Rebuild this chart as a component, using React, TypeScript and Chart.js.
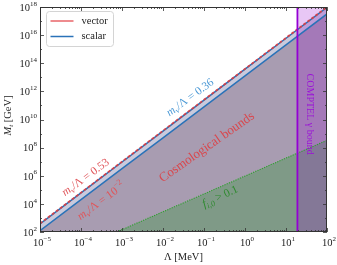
import React, { useEffect, useRef } from "react";
import { Chart, registerables } from "chart.js";

Chart.register(...registerables);

// ---- data ----
const lambdaGrid = [1e-5, 1e-4, 1e-3, 1e-2, 1e-1, 1, 10, 100];
const vectorUpper = [4.0e2, 6.3e4, 1.0e7, 1.6e9, 2.5e11, 4.0e13, 6.3e15, 1.0e18];
const scalarUpper = [3.8e2, 6.0e4, 9.5e6, 1.5e9, 2.4e11, 3.8e13, 6.0e15, 9.5e17];
const scalarLower = [1.26e2, 2.0e4, 3.2e6, 5.0e8, 7.9e10, 1.26e13, 2.0e15, 3.2e17];
const lambdaGreen = [7.4e-4, 1e-2, 1e-1, 1, 10, 100];
const fGreen = [1e2, 2.75e3, 5.1e4, 9.5e5, 1.8e7, 3.3e8];
const comptelLambda = [19, 100];
const comptelTop = [1e18, 1e18];
const seriesNames = ["vector", "scalar"];
const xTickExps = [-5, -4, -3, -2, -1, 0, 1, 2];
const yTickExps = [2, 4, 6, 8, 10, 12, 14, 16, 18];

const X_MIN = 1e-5, X_MAX = 1e2, Y_MIN = 1e2, Y_MAX = 1e18;

const RED = "rgba(222,60,64,0.9)";
const BLUE = "#2a72b8";
const FONT = '"Liberation Serif", "DejaVu Serif", serif';

type Part = { t: string; it?: boolean; sub?: boolean; sup?: boolean };

function drawMath(
  ctx: CanvasRenderingContext2D,
  parts: Part[],
  x: number,
  y: number,
  size: number,
  color: string,
  align: "left" | "center" | "right" = "center",
  angleDeg = 0
) {
  ctx.save();
  ctx.translate(x, y);
  ctx.rotate((-angleDeg * Math.PI) / 180);
  ctx.fillStyle = color;
  ctx.textBaseline = "middle";
  ctx.textAlign = "left";
  const fontOf = (p: Part) =>
    `${p.it ? "italic " : ""}${p.sub || p.sup ? Math.round(size * 0.7) : size}px ${FONT}`;
  let total = 0;
  const widths = parts.map((p) => {
    ctx.font = fontOf(p);
    const w = ctx.measureText(p.t).width;
    total += w;
    return w;
  });
  let cx = align === "center" ? -total / 2 : align === "right" ? -total : 0;
  parts.forEach((p, i) => {
    ctx.font = fontOf(p);
    const dy = p.sub ? size * 0.3 : p.sup ? -size * 0.4 : 0;
    ctx.fillText(p.t, cx, dy);
    cx += widths[i];
  });
  ctx.restore();
}

const annotations: { parts: Part[]; x: number; y: number; size: number; color: string; angle: number }[] = [
  { parts: [{ t: "m", it: true }, { t: "ν", it: true, sub: true }, { t: "/Λ = 0.36" }], x: 0.046, y: 3.6e11, size: 11.5, color: "#4d9ad6", angle: 36 },
  { parts: [{ t: "m", it: true }, { t: "ν", it: true, sub: true }, { t: "/Λ = 0.53" }], x: 1.3e-4, y: 7.5e5, size: 11.5, color: "#e0555a", angle: 36 },
  { parts: [{ t: "m", it: true }, { t: "ν", it: true, sub: true }, { t: "/Λ = 10" }, { t: "−2", sup: true }], x: 3.1e-4, y: 1.5e4, size: 11.5, color: "#e0555a", angle: 36 },
  { parts: [{ t: "Cosmological bounds" }], x: 0.118, y: 1.07e8, size: 13, color: "#d9474d", angle: 35 },
  { parts: [{ t: "f", it: true }, { t: "i,0", it: true, sub: true }, { t: " > 0.1" }], x: 0.25, y: 3.2e4, size: 11.5, color: "#2e8a2e", angle: 25 },
  { parts: [{ t: "COMPTEL γ bound" }], x: 38.5, y: 2.4e10, size: 10, color: "#9a10d8", angle: -90 },
];

const decor = {
  id: "decor",
  afterDatasetsDraw(chart: any) {
    const ctx = chart.ctx as CanvasRenderingContext2D;
    const xs = chart.scales.x, ys = chart.scales.y;
    annotations.forEach((a) => {
      drawMath(ctx, a.parts, xs.getPixelForValue(a.x), ys.getPixelForValue(a.y), a.size, a.color, "center", a.angle);
    });
  },
  afterDraw(chart: any) {
    const ctx = chart.ctx as CanvasRenderingContext2D;
    const xs = chart.scales.x, ys = chart.scales.y;
    const { left, right, top, bottom } = chart.chartArea;
    ctx.save();
    ctx.strokeStyle = "#333";
    ctx.lineWidth = 0.8;
    // ticks
    ctx.beginPath();
    for (let e = -5; e <= 2; e++) {
      for (let m = 1; m <= 9; m++) {
        const v = m * Math.pow(10, e);
        if (v > X_MAX * 1.0001) break;
        const px = Math.round(xs.getPixelForValue(v)) + 0.5;
        const len = m === 1 ? 4 : 2;
        ctx.moveTo(px, bottom); ctx.lineTo(px, bottom - len);
        ctx.moveTo(px, top); ctx.lineTo(px, top + len);
      }
    }
    for (let e = 2; e <= 18; e++) {
      const py = Math.round(ys.getPixelForValue(Math.pow(10, e))) + 0.5;
      const len = e % 2 === 0 ? 4 : 2;
      ctx.moveTo(left, py); ctx.lineTo(left + len, py);
      ctx.moveTo(right, py); ctx.lineTo(right - len, py);
    }
    ctx.stroke();
    // frame
    ctx.lineWidth = 1;
    ctx.strokeRect(left + 0.5, top + 0.5, right - left - 1, bottom - top - 1);
    ctx.restore();

    // tick labels
    xTickExps.forEach((e) => {
      const px = xs.getPixelForValue(Math.pow(10, e));
      drawMath(ctx, [{ t: "10" }, { t: e < 0 ? "−" + Math.abs(e) : String(e), sup: true }], px + 2, bottom + 11, 10.5, "#222", "center");
    });
    yTickExps.forEach((e) => {
      const py = ys.getPixelForValue(Math.pow(10, e));
      drawMath(ctx, [{ t: "10" }, { t: String(e), sup: true }], left - 3, py + 1, 10.5, "#222", "right");
    });
    // axis titles
    drawMath(ctx, [{ t: "Λ [MeV]" }], (left + right) / 2, bottom + 25, 10.5, "#222", "center");
    drawMath(ctx, [{ t: "M", it: true }, { t: "t", it: true, sub: true }, { t: " [GeV]" }], 8, (top + bottom) / 2 - 4, 10.5, "#222", "center", 90);

    // legend
    const lx = left + 6.5, ly = top + 4.5, lw = 67, lh = 35;
    ctx.save();
    ctx.beginPath();
    const r = 3;
    ctx.moveTo(lx + r, ly);
    ctx.lineTo(lx + lw - r, ly);
    ctx.quadraticCurveTo(lx + lw, ly, lx + lw, ly + r);
    ctx.lineTo(lx + lw, ly + lh - r);
    ctx.quadraticCurveTo(lx + lw, ly + lh, lx + lw - r, ly + lh);
    ctx.lineTo(lx + r, ly + lh);
    ctx.quadraticCurveTo(lx, ly + lh, lx, ly + lh - r);
    ctx.lineTo(lx, ly + r);
    ctx.quadraticCurveTo(lx, ly, lx + r, ly);
    ctx.closePath();
    ctx.fillStyle = "rgba(255,255,255,0.85)";
    ctx.fill();
    ctx.strokeStyle = "#d4d4d4";
    ctx.lineWidth = 1;
    ctx.stroke();
    const colors = ["rgba(232,100,104,1)", BLUE];
    seriesNames.forEach((name, i) => {
      const yy = ly + 9.5 + i * 15.5;
      ctx.strokeStyle = colors[i];
      ctx.lineWidth = 1.5;
      ctx.beginPath();
      ctx.moveTo(lx + 4, yy);
      ctx.lineTo(lx + 27, yy);
      ctx.stroke();
      drawMath(ctx, [{ t: name }], lx + 35, yy, 10.5, "#222", "left");
    });
    ctx.restore();
  },
};

export default function App() {
  const ref = useRef<HTMLCanvasElement | null>(null);
  useEffect(() => {
    if (!ref.current) return;
    const pts = (xs: number[], ys: number[]) => xs.map((x, i) => ({ x, y: ys[i] }));
    const base = { pointRadius: 0, tension: 0, borderWidth: 0 };
    const chart = new Chart(ref.current, {
      type: "line",
      data: {
        datasets: [
          // 0 COMPTEL vertical line
          { ...base, data: pts([comptelLambda[0], comptelLambda[0]], [Y_MIN, Y_MAX]), borderColor: "#9400d3", borderWidth: 1.8, fill: false },
          // 1 red dashed upper
          { ...base, label: "vector", data: pts(lambdaGrid, vectorUpper), borderColor: RED, borderWidth: 1.8, borderDash: [3, 2], fill: false },
          // 2 blue upper
          { ...base, label: "scalar", data: pts(lambdaGrid, scalarUpper), borderColor: BLUE, borderWidth: 1.5, fill: false },
          // 3 blue lower
          { ...base, data: pts(lambdaGrid, scalarLower), borderColor: BLUE, borderWidth: 1.5, fill: false },
          // 4 green dotted line
          { ...base, data: pts(lambdaGreen, fGreen), borderColor: "#2ca02c", borderWidth: 1.1, borderDash: [1.2, 1.2], fill: false },
          // 5 COMPTEL fill
          { ...base, data: pts(comptelLambda, comptelTop), borderColor: "rgba(0,0,0,0)", fill: "start", backgroundColor: "rgba(148,0,211,0.22)" },
          // 6 green fill
          { ...base, data: pts(lambdaGreen, fGreen), borderColor: "rgba(0,0,0,0)", fill: "start", backgroundColor: "#7f9a87" },
          // 7 cosmological fill
          { ...base, data: pts(lambdaGrid, scalarLower), borderColor: "rgba(0,0,0,0)", fill: "start", backgroundColor: "#a89cb1" },
          // 8 band fill
          { ...base, data: pts(lambdaGrid, vectorUpper), borderColor: "rgba(0,0,0,0)", fill: "start", backgroundColor: "#c9cadc" },
        ] as any,
      },
      options: {
        animation: false,
        responsive: false,
        maintainAspectRatio: false,
        devicePixelRatio: 1,
        layout: { padding: { left: 40, right: 10, top: 7, bottom: 33 } },
        plugins: { legend: { display: false }, tooltip: { enabled: false } },
        scales: {
          x: { type: "logarithmic", min: X_MIN, max: X_MAX, display: false },
          y: { type: "logarithmic", min: Y_MIN, max: Y_MAX, display: false },
        },
      } as any,
      plugins: [decor],
    });
    return () => chart.destroy();
  }, []);
  return (
    <div style={{ position: "fixed", left: 0, top: 0, width: 337, height: 265, background: "#fff" }}>
      <canvas ref={ref} width={337} height={265} style={{ width: 337, height: 265, display: "block" }} />
    </div>
  );
}
